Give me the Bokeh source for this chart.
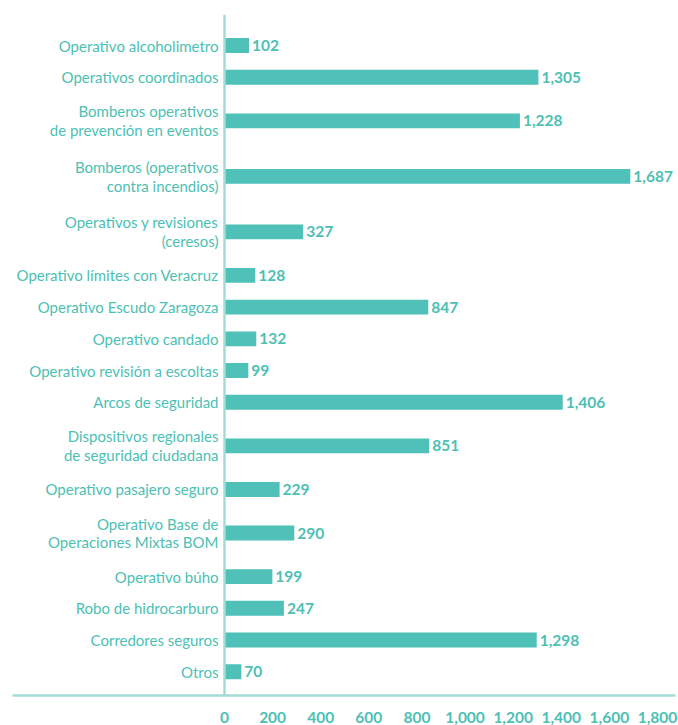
from bokeh.plotting import figure
from bokeh.models import Range1d, Span, FixedTicker, NumeralTickFormatter, ColumnDataSource
from bokeh.core.properties import value
from bokeh.embed import file_html
from bokeh.resources import INLINE

categories = [
    "Operativo alcoholimetro",
    "Operativos coordinados",
    "Bomberos operativos\nde prevención en eventos",
    "Bomberos (operativos\ncontra incendios)",
    "Operativos y revisiones\n(ceresos)",
    "Operativo límites con Veracruz",
    "Operativo Escudo Zaragoza",
    "Operativo candado",
    "Operativo revisión a escoltas",
    "Arcos de seguridad",
    "Dispositivos regionales\nde seguridad ciudadana",
    "Operativo pasajero seguro",
    "Operativo Base de\nOperaciones Mixtas BOM",
    "Operativo búho",
    "Robo de hidrocarburo",
    "Corredores seguros",
    "Otros",
]
values = [102, 1305, 1228, 1687, 327, 128, 847, 132, 99, 1406, 851, 229, 290, 199, 247, 1298, 70]
ticks = [0, 200, 400, 600, 800, 1000, 1200, 1400, 1600, 1800]

BAR = "#4fc1b8"
TXT = "#4dbfb4"
LINE = "#a3dcd7"

# layout: row slots, two-line labels get a taller slot
slot = [1.0 if "\n" not in c else 1.75 for c in categories]
ys = [0.0]
for i in range(1, len(slot)):
    ys.append(ys[-1] + (slot[i - 1] + slot[i]) / 2)

labels = [f"{v:,}" for v in values]
src = ColumnDataSource(dict(y=ys, v=values, cat=categories, lab=labels, zero=[0] * len(values)))

p = figure(width=678, height=725, output_backend="svg", toolbar_location=None,
           x_range=Range1d(-881.3, 1874.8), y_range=Range1d(20.5, -0.98),
           y_axis_location=None, min_border_left=12, min_border_right=3,
           min_border_top=14, min_border_bottom=0)
p.outline_line_color = None
p.xgrid.visible = False
p.ygrid.visible = False

p.hbar(y="y", right="v", left=0, height=0.47, source=src, color=BAR, line_color=None)

p.text(x="zero", y="y", text="cat", source=src, x_offset=-6, text_align="right",
       text_baseline="middle", text_font=value("Lato"), text_font_size="15px",
       text_color=TXT, text_line_height=1.05)
p.text(x="v", y="y", text="lab", source=src, x_offset=3, text_align="left",
       text_baseline="middle", text_font=value("Lato"), text_font_style="bold",
       text_font_size="15.5px", text_color=TXT)

p.add_layout(Span(location=0, dimension="height", line_color=LINE, line_width=2.5))

ax = p.xaxis[0]
ax.ticker = FixedTicker(ticks=ticks)
ax.formatter = NumeralTickFormatter(format="0,0")
ax.major_tick_line_color = None
ax.minor_tick_line_color = None
ax.axis_line_color = LINE
ax.axis_line_width = 2.5
ax.major_label_standoff = 10
ax.major_label_text_font = "Lato"
ax.major_label_text_font_style = "bold"
ax.major_label_text_font_size = "15.5px"
ax.major_label_text_color = TXT

open("out.html", "w").write(file_html(p, INLINE))
